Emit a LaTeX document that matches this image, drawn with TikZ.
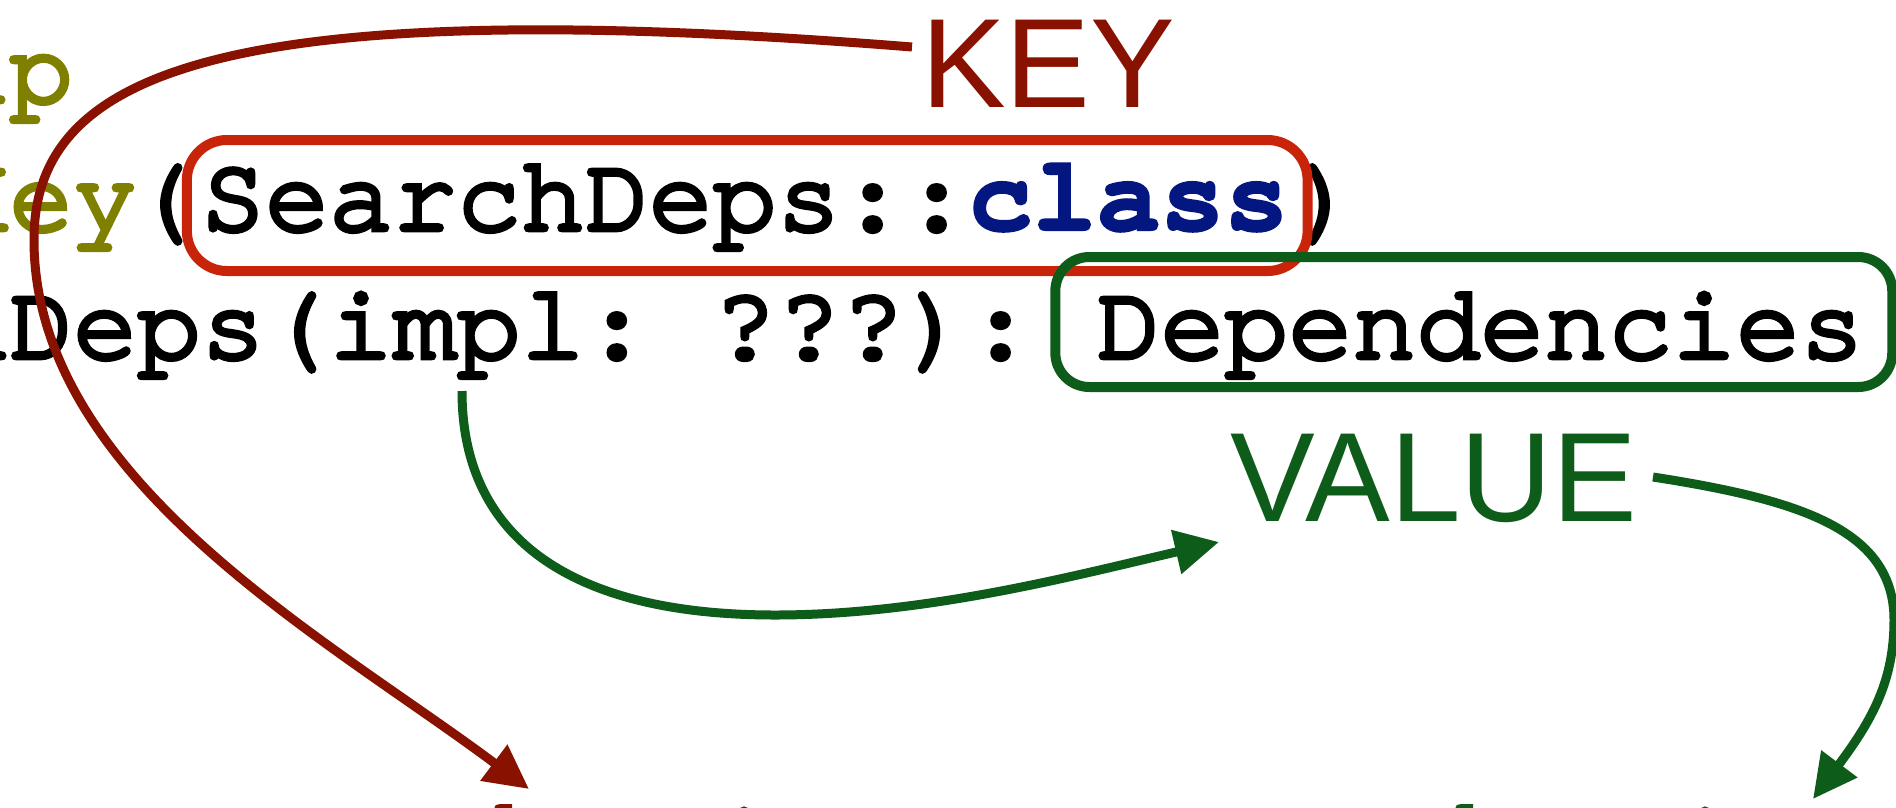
\documentclass[tikz,border=0pt]{standalone}
\usepackage{fontspec}
\usetikzlibrary{arrows.meta}
\newfontfamily\cursorfont{texgyrecursor}[Extension=.otf, UprightFont=*-regular, BoldFont=*-bold, UprightFeatures={FakeBold=4.5}, BoldFeatures={FakeBold=2}]
\newfontfamily\labelfont{Liberation Sans}
\definecolor{annoolive}{RGB}{128,128,0}
\definecolor{kwnavy}{RGB}{4,22,128}
\definecolor{keyframered}{RGB}{200,36,10}
\definecolor{keydark}{RGB}{136,17,0}
\definecolor{valgreen}{RGB}{14,92,26}
\tikzset{
  code/.style={inner sep=0pt, anchor=base west, font=\cursorfont\fontsize{106.6pt}{128pt}\selectfont\frenchspacing},
  lbl/.style={inner sep=0pt, anchor=base west, font=\labelfont\fontsize{127pt}{150pt}\selectfont},
  keyframe/.style={draw=keyframered, line width=10pt, rounded corners=40pt},
  valframe/.style={draw=valgreen, line width=10pt, rounded corners=34pt},
  keyarrow/.style={draw=keydark, line width=9pt, -{Triangle[length=44pt,width=43pt]}},
  valarrow/.style={draw=valgreen, line width=9pt, -{Triangle[length=44pt,width=43pt]}},
}
\begin{document}
\begin{tikzpicture}[x=1pt,y=-1pt]
\useasboundingbox (0,0) rectangle (1896,807);
\clip (0,0) rectangle (1896,807);
\fill[white] (0,0) rectangle (1896,807);
% code lines
\node[code, annoolive] (l1) at (-438.72,102) {@IntoMap};
\node[code, annoolive] (anno) at (-438.72,230) {@ClassKey};
\node[code] (lpar) at (130.92,230) {(};
\node[code] (keytxt) at (200.88,230) {SearchDeps::{\bfseries\color{kwnavy}class}};
\node[code] (rpar) at (1294.2,230) {)};
\node[code] (fun) at (-630.6,358) {bindSearchDeps(};
\node[code] (impl) at (328.8,358) {impl};
\node[code] (sig) at (584.64,358) {: ???):};
\node[code] (deps) at (1096.32,358) {Dependencies};
% labels
\node[lbl, keydark] (key) at (921,107) {KEY};
\node[lbl, valgreen] (value) at (1230,521) {VALUE};
% cut-off text at the bottom edge
\node[code, keydark] (redd) at (456,871) {d};
\node[code, keydark] (redi) at (711.84,874) {i};
\node[code, valgreen] (greend) at (1417,871) {d};
\node[code, valgreen] (greeni) at (1672.84,874) {i};
% frames
\draw[keyframe] ([shift={(-14,-90)}]keytxt.base west) rectangle ([shift={(19,41)}]keytxt.base east);
\draw[valframe] ([shift={(-41,-101)}]deps.base west) rectangle ([shift={(28,29)}]deps.base east);
% connectors
\draw[keyarrow] ([shift={(-9,-60)}]key.base west) .. controls (200,-10) and (34,80) .. (34,240)
  .. controls (34,480) and (330,640) .. ([shift={(73,-82)}]redd.base west);
\draw[valarrow] ([shift={(133.2,33)}]impl.base west) .. controls (462,541) and (575,615) .. (775,615)
  .. controls (925,615) and (1073,576) .. ([shift={(-11,21)}]value.base west);
\draw[valarrow] ([shift={(423,-44)}]value.base west) .. controls (1801,500) and (1894,530) .. (1894,620)
  .. controls (1894,680) and (1873,719) .. ([shift={(140.16,-75)}]greeni.base west);
\end{tikzpicture}
\end{document}
